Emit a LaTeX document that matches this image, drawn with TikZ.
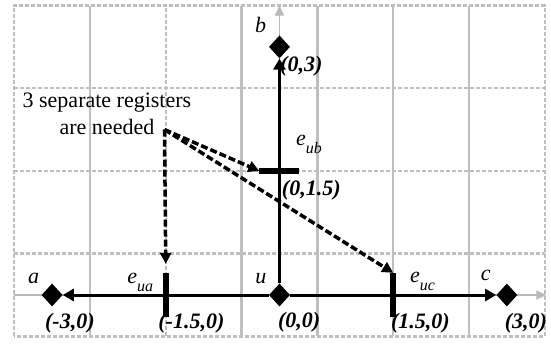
\documentclass[tikz,border=0pt]{standalone}
\usepackage{fontspec}
\setmainfont{Liberation Serif}
\usetikzlibrary{positioning,shapes.geometric,arrows.meta}
\newcommand{\edgelbl}[2]{\textit{#1}\raisebox{-8pt}{\fontsize{16}{16}\selectfont\textit{#2}}}

\begin{document}
\begin{tikzpicture}
		[x=75.8pt, y=82.7pt,
		gridline/.style={draw=gray!50, line width=2.5pt},
		griddash/.style={gridline, dash pattern=on 4pt off 2pt},
		axisline/.style={draw=gray!55, line width=1.8pt, -{Triangle[length=10pt,width=9pt]}},
		vertex/.style={diamond, fill=black, inner sep=0pt, minimum width=21pt, minimum height=23pt},
		vbar/.style={rectangle, fill=black, inner sep=0pt, minimum width=6.5pt, minimum height=44pt},
		hbar/.style={rectangle, fill=black, inner sep=0pt, minimum width=40pt, minimum height=6.5pt},
		edgearrow/.style={draw=black, line width=3pt, -{Triangle[length=11pt,width=12pt]}},
		pointer/.style={draw=black, line width=3.5pt, dash pattern=on 7pt off 3pt, -{Triangle[length=11pt,width=11pt]}},
		lbl/.style={font=\fontsize{22}{28}\selectfont\itshape, inner sep=0pt, anchor=base},
		coord/.style={font=\fontsize{22}{28}\selectfont\bfseries\itshape, inner sep=0pt, anchor=base west}]
		\useasboundingbox (-3.687,-0.5925) rectangle (3.582,3.567);

		\foreach \gx in {-2.5,-0.5,0.5,1.5,2.5}
			\draw[gridline] (\gx,-0.5) -- (\gx,3.5);
		\draw[griddash] (-1.5,-0.5) -- (-1.5,3.5);
		\foreach \gy in {0.5,1.5,2.5}
			\draw[griddash] (-3.5,\gy) -- (3.5,\gy);
		\draw[griddash] (-3.5,-0.5) rectangle (3.5,3.5);

		\coordinate (origin) at (0,0);
		\coordinate (xstart) at (-3.5,0);
		\coordinate (xend) at (3.52,0);
		\coordinate (yend) at (0,3.5);
		\draw[axisline] (xstart) -- (xend);
		\draw[axisline] (origin) -- (yend);

		\node[vertex] (u) at (0,0) {};
		\node[vertex] (a) at (-3,0) {};
		\node[vertex] (b) at (0,3) {};
		\node[vertex] (c) at (3,0) {};
		\draw[edgearrow] (u) -- (a);
		\draw[edgearrow] (u) -- (b);
		\draw[edgearrow] (u) -- (c);

		\node[vbar] (eua) at (-1.5,0) {};
		\node[hbar] (eub) at (0,1.5) {};
		\node[vbar] (euc) at (1.5,0) {};

		\node[lbl] (la) at (-3.245,0.145) {a};
		\node[lbl] (lu) at (-0.244,0.145) {u};
		\node[lbl] (lb) at (-0.25,3.17) {b};
		\node[lbl] (lc) at (2.72,0.17) {c};
		\node[lbl, anchor=base west] (leua) at (-2.01,0.145) {\edgelbl{e}{ua}};
		\node[lbl, anchor=base west] (leub) at (0.218,1.81) {\edgelbl{e}{ub}};
		\node[lbl, anchor=base west] (leuc) at (1.72,0.157) {\edgelbl{e}{uc}};

		\node[coord] (pa) at (-3.094,-0.40) {(-3,0)};
		\node[coord] (pua) at (-1.60,-0.40) {(-1.5,0)};
		\node[coord] (pu) at (-0.02,-0.39) {(0,0)};
		\node[coord] (puc) at (1.47,-0.40) {(1.5,0)};
		\node[coord] (pc) at (2.97,-0.40) {(3,0)};
		\node[coord] (pb) at (0.007,2.70) {(0,3)};
		\node[coord] (pub) at (0.03,1.20) {(0,1.5)};

		\node[font=\fontsize{22}{27}\selectfont, align=center, inner sep=0pt] (note) at (-2.276,2.188) {3 separate registers\\are needed};
		\coordinate (reg) at (-1.517,2.0);
		\draw[pointer] (reg) -- ([yshift=9pt]eua.north);
		\draw[pointer] (reg) -- (eub.west);
		\draw[pointer] (reg) -- (euc.north);
	\end{tikzpicture}
\end{document}
